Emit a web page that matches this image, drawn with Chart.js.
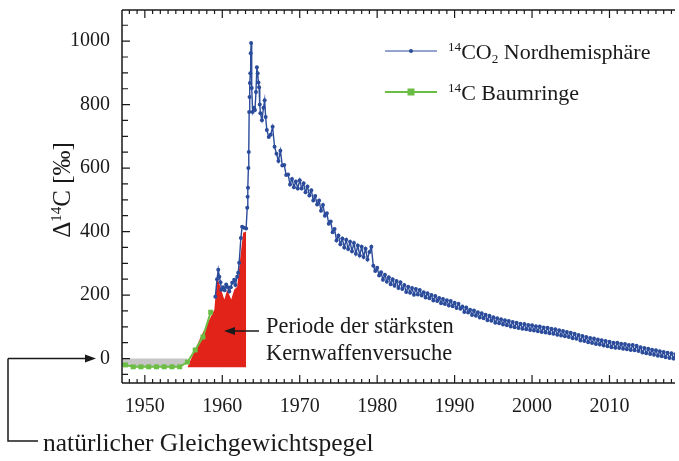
<!DOCTYPE html>
<html lang="de">
<head>
<meta charset="utf-8">
<script src="https://cdn.jsdelivr.net/npm/chart.js@4.4.1/dist/chart.umd.min.js"></script>
<style>
  html, body { margin: 0; padding: 0; background: #fff; }
  #rahmen { width: 679px; height: 461px; }
</style>
</head>
<body>
<div id="rahmen"><canvas id="grafik" width="679" height="461"></canvas></div>
<script>
// 14C Baumringe (Jahresmitte), Promille
const jahreBaum = [1946.5, 1947.5, 1948.5, 1949.5, 1950.5, 1951.5, 1952.5, 1953.5, 1954.5, 1955.5, 1956.5, 1957.5, 1958.5];
const werteBaum = [-18, -20, -26, -26, -26, -26, -26, -26, -26, -11, 27, 68, 146];
const grenzeGrau = 1955.5; // graue Fläche bis hier

// 14CO2 Nordhemisphäre, Messungen 1959-1965
const jahreCO2Frueh = [1959.10, 1959.32, 1959.48, 1959.62, 1959.77, 1959.88, 1960.10, 1960.30, 1960.50, 1960.70,
  1960.90, 1961.10, 1961.28, 1961.54, 1961.70, 1961.92, 1962.05, 1962.18, 1962.40, 1962.56,
  1962.80, 1963.08, 1963.22, 1963.27, 1963.32, 1963.37, 1963.42, 1963.47, 1963.52, 1963.57,
  1963.62, 1963.67, 1963.72, 1963.80, 1963.92, 1964.07, 1964.22, 1964.35, 1964.47, 1964.57,
  1964.67, 1964.75, 1964.84, 1964.92, 1965.12, 1965.32, 1965.47, 1965.60, 1965.75];
const werteCO2Frueh = [195, 250, 280, 258, 240, 217, 225, 215, 233, 225,
  211, 225, 239, 248, 232, 258, 270, 302, 380, 415,
  412, 410, 475, 510, 538, 600, 651, 777, 824, 868,
  899, 962, 994, 852, 777, 790, 783, 840, 918, 899,
  870, 855, 800, 773, 751, 790, 814, 761, 720];

// ab 1966 vierteljährlich
const startCO2Spaet = 1966;
const schrittCO2Spaet = 0.25;
const werteCO2Spaet = [
  698, 705, 730, 667,   645, 622, 655, 608,   610, 578, 580, 548,   566, 540, 558, 536,   // 1966-69
  562, 536, 552, 524,   542, 514, 530, 498,   512, 485, 498, 466,   484, 450, 458, 425,   // 1970-73
  432, 398, 408, 372,   388, 360, 378, 350,   374, 345, 368, 338,   364, 330, 356, 325,   // 1974-77
  352, 320, 346, 312,   336, 352, 292, 276,   286, 262, 272, 248,   264, 242, 256, 234,   // 1978-81
  250, 229, 244, 222,   240, 219, 232, 210,   226, 207, 222, 201,   219, 202, 216, 199,   // 1982-85
  209, 192, 206, 190,   200, 183, 197, 181,   191, 174, 188, 172,   184, 167, 181, 165,   // 1986-89
  176, 159, 173, 157,   164, 147, 161, 145,   154, 137, 151, 135,   146, 129, 143, 127,   // 1990-93
  138, 121, 135, 119,   130, 113, 127, 111,   124, 107, 121, 105,   118, 101, 115, 99,    // 1994-97
  113, 96, 110, 94,     109, 92, 106, 90,     105, 88, 102, 86,     101, 84, 98, 82,     // 1998-01
  97, 80, 94, 78,       92, 75, 89, 73,       87, 70, 84, 68,       81, 64, 78, 62,      // 2002-05
  74, 57, 71, 55,       68, 51, 65, 49,       63, 46, 60, 44,       58, 41, 55, 39,      // 2006-09
  53, 36, 50, 34,       50, 33, 47, 31,       46, 29, 43, 27,       43, 26, 40, 24,      // 2010-13
  36, 19, 33, 17,       31, 14, 28, 12,       26, 9, 23, 7,         21, 4, 18, 2,        // 2014-17
  17, 0, 14                                                                                // 2018
];

// Periode der stärksten Kernwaffenversuche (rote Fläche)
const jahreRot = [1955.5, 1957.18, 1958.97, 1959.23, 1959.36, 1960.26, 1960.64, 1961.15, 1961.54, 1961.92, 1962.44, 1962.69, 1963.08, 1963.08];
const werteRot = [-27, 66, 154, 226, 255, 186, 217, 186, 217, 226, 343, 396, 400, -27];
const basisRot = -27;

// Achsen
const xMin = 1947.05, xMax = 2018.46;
const yMin = -77, yMax = 1098;
const xBeschriftung = [1950, 1960, 1970, 1980, 1990, 2000, 2010];
const yBeschriftung = [0, 200, 400, 600, 800, 1000];

const blau = '#2b4b9b';
const gruen = '#6cbd45';
const grau = '#c6c6c6';
const rot = '#e2231a';
const schwarz = '#1a1a1a';
const schrift = '"Liberation Serif", "DejaVu Serif", serif';

const punkteCO2 = jahreCO2Frueh.map((j, i) => ({x: j, y: werteCO2Frueh[i]}))
  .concat(werteCO2Spaet.map((w, i) => ({x: startCO2Spaet + i * schrittCO2Spaet, y: w})));
const punkteBaum = jahreBaum.map((j, i) => ({x: j, y: werteBaum[i]}));
const punkteGrau = punkteBaum.filter(p => p.x <= grenzeGrau);
const punkteRot = jahreRot.map((j, i) => ({x: j, y: werteRot[i]}));

// Text mit Hoch-/Tiefstellung
function zeichneTeile(ctx, teile, x, y, gr) {
  let px = x;
  teile.forEach(t => {
    let g = gr, dy = 0;
    if (t.s === 'hoch') { g = gr * 0.6; dy = -gr * 0.38; }
    if (t.s === 'tief') { g = gr * 0.6; dy = gr * 0.2; }
    ctx.font = g + 'px ' + schrift;
    ctx.fillText(t.t, px, y + dy);
    px += ctx.measureText(t.t).width;
  });
  return px - x;
}
function breiteTeile(ctx, teile, gr) {
  let b = 0;
  teile.forEach(t => {
    const g = t.s ? gr * 0.6 : gr;
    ctx.font = g + 'px ' + schrift;
    b += ctx.measureText(t.t).width;
  });
  return b;
}

function pfeil(ctx, x1, y1, x2, y2) {
  const w = Math.atan2(y2 - y1, x2 - x1);
  const l = 11, b = 4;
  ctx.beginPath();
  ctx.moveTo(x1, y1);
  ctx.lineTo(x2 - l * Math.cos(w), y2 - l * Math.sin(w));
  ctx.stroke();
  ctx.beginPath();
  ctx.moveTo(x2, y2);
  ctx.lineTo(x2 - l * Math.cos(w) + b * Math.sin(w), y2 - l * Math.sin(w) - b * Math.cos(w));
  ctx.lineTo(x2 - l * Math.cos(w) - b * Math.sin(w), y2 - l * Math.sin(w) + b * Math.cos(w));
  ctx.closePath();
  ctx.fill();
}

const beschriftung = {
  id: 'beschriftung',
  afterDraw(chart) {
    const {ctx, chartArea: a, scales: {x, y}} = chart;
    ctx.save();
    ctx.strokeStyle = schwarz;
    ctx.fillStyle = schwarz;

    // Achsenlinien und Teilstriche (nach innen)
    ctx.lineWidth = 1.5;
    ctx.beginPath();
    ctx.moveTo(a.left, a.top); ctx.lineTo(a.right, a.top);
    ctx.moveTo(a.left, a.top); ctx.lineTo(a.left, a.bottom);
    ctx.moveTo(a.left, a.bottom); ctx.lineTo(a.right, a.bottom);
    ctx.stroke();
    ctx.lineWidth = 1.2;
    ctx.beginPath();
    for (let j = Math.ceil(x.min); j <= x.max; j++) {
      const px = x.getPixelForValue(j);
      const l = j % 10 === 0 ? 8 : 4;
      ctx.moveTo(px, a.bottom); ctx.lineTo(px, a.bottom - l);
      ctx.moveTo(px, a.top); ctx.lineTo(px, a.top + l);
    }
    for (let w = Math.ceil(y.min / 50) * 50; w <= y.max; w += 50) {
      const py = y.getPixelForValue(w);
      const l = w % 200 === 0 ? 8 : 6;
      ctx.moveTo(a.left, py); ctx.lineTo(a.left + l, py);
    }
    ctx.stroke();

    // y-Achsentitel
    ctx.save();
    const titel = [{t: 'Δ'}, {t: '14', s: 'hoch'}, {t: 'C [‰]'}];
    ctx.translate(62, 190);
    ctx.rotate(-Math.PI / 2);
    ctx.textBaseline = 'alphabetic';
    const bt = breiteTeile(ctx, titel, 25);
    zeichneTeile(ctx, titel, -bt / 2, 8, 25);
    ctx.restore();

    // Legende
    ctx.textBaseline = 'alphabetic';
    ctx.lineWidth = 1.2;
    ctx.strokeStyle = blau;
    ctx.beginPath(); ctx.moveTo(385, 51); ctx.lineTo(437, 51); ctx.stroke();
    ctx.fillStyle = blau;
    ctx.beginPath(); ctx.arc(411, 51, 2, 0, Math.PI * 2); ctx.fill();
    ctx.strokeStyle = gruen;
    ctx.lineWidth = 2;
    ctx.beginPath(); ctx.moveTo(385, 92); ctx.lineTo(437, 92); ctx.stroke();
    ctx.fillStyle = gruen;
    ctx.fillRect(407.5, 88.5, 7, 7);
    ctx.fillStyle = schwarz;
    zeichneTeile(ctx, [{t: '14', s: 'hoch'}, {t: 'CO'}, {t: '2', s: 'tief'}, {t: ' Nordhemisphäre'}], 448, 59, 22);
    zeichneTeile(ctx, [{t: '14', s: 'hoch'}, {t: 'C Baumringe'}], 448, 100, 22);

    // Periode der stärksten Kernwaffenversuche
    ctx.strokeStyle = schwarz;
    ctx.fillStyle = schwarz;
    ctx.lineWidth = 1.5;
    pfeil(ctx, 259, 331, 224, 331);
    ctx.font = '22.4px ' + schrift;
    ctx.fillText('Periode der stärksten', 266, 333);
    ctx.fillText('Kernwaffenversuche', 266, 360);

    // natürlicher Gleichgewichtspegel
    const null0 = y.getPixelForValue(0);
    ctx.beginPath();
    ctx.moveTo(38, 441); ctx.lineTo(8, 441); ctx.lineTo(8, null0);
    ctx.stroke();
    pfeil(ctx, 8, null0, 96, null0);
    ctx.font = '25.5px ' + schrift;
    ctx.fillText('natürlicher Gleichgewichtspegel', 43, 451);
    ctx.restore();
  }
};

new Chart(document.getElementById('grafik'), {
  type: 'line',
  data: {
    datasets: [
      {
        label: '14CO2 Nordhemisphäre',
        data: punkteCO2,
        borderColor: blau,
        backgroundColor: blau,
        borderWidth: 1.4,
        pointRadius: 2,
        pointBorderWidth: 0,
        pointBackgroundColor: blau,
        fill: false
      },
      {
        label: '14C Baumringe',
        data: punkteBaum,
        borderColor: gruen,
        backgroundColor: gruen,
        borderWidth: 2,
        pointStyle: 'rect',
        pointRadius: 3.5,
        pointBorderWidth: 0,
        pointBackgroundColor: gruen,
        fill: false
      },
      {
        label: 'grau',
        data: punkteGrau,
        borderWidth: 0,
        pointRadius: 0,
        backgroundColor: grau,
        fill: {value: 0}
      },
      {
        label: 'rot',
        data: punkteRot,
        borderWidth: 0,
        pointRadius: 0,
        backgroundColor: rot,
        fill: {value: basisRot}
      }
    ]
  },
  options: {
    responsive: false,
    animation: false,
    layout: {padding: {top: 10, right: 0, left: 0, bottom: 0}},
    plugins: {legend: {display: false}, tooltip: {enabled: false}},
    scales: {
      x: {
        type: 'linear',
        min: xMin,
        max: xMax,
        grid: {display: false, drawTicks: false},
        border: {display: false},
        ticks: {
          maxRotation: 0,
          padding: 12,
          color: schwarz,
          font: {family: schrift, size: 20},
          callback: v => String(v)
        },
        afterBuildTicks: s => { s.ticks = xBeschriftung.map(v => ({value: v})); },
        afterFit: s => { s.height = 78; s.paddingLeft = 0; s.paddingRight = 0; }
      },
      y: {
        min: yMin,
        max: yMax,
        grid: {display: false, drawTicks: false},
        border: {display: false},
        ticks: {
          padding: 12,
          color: schwarz,
          font: {family: schrift, size: 20},
          callback: v => String(v)
        },
        afterBuildTicks: s => { s.ticks = yBeschriftung.map(v => ({value: v})); },
        afterFit: s => { s.width = 122; s.paddingTop = 0; s.paddingBottom = 0; }
      }
    }
  },
  plugins: [beschriftung]
});
</script>
</body>
</html>
